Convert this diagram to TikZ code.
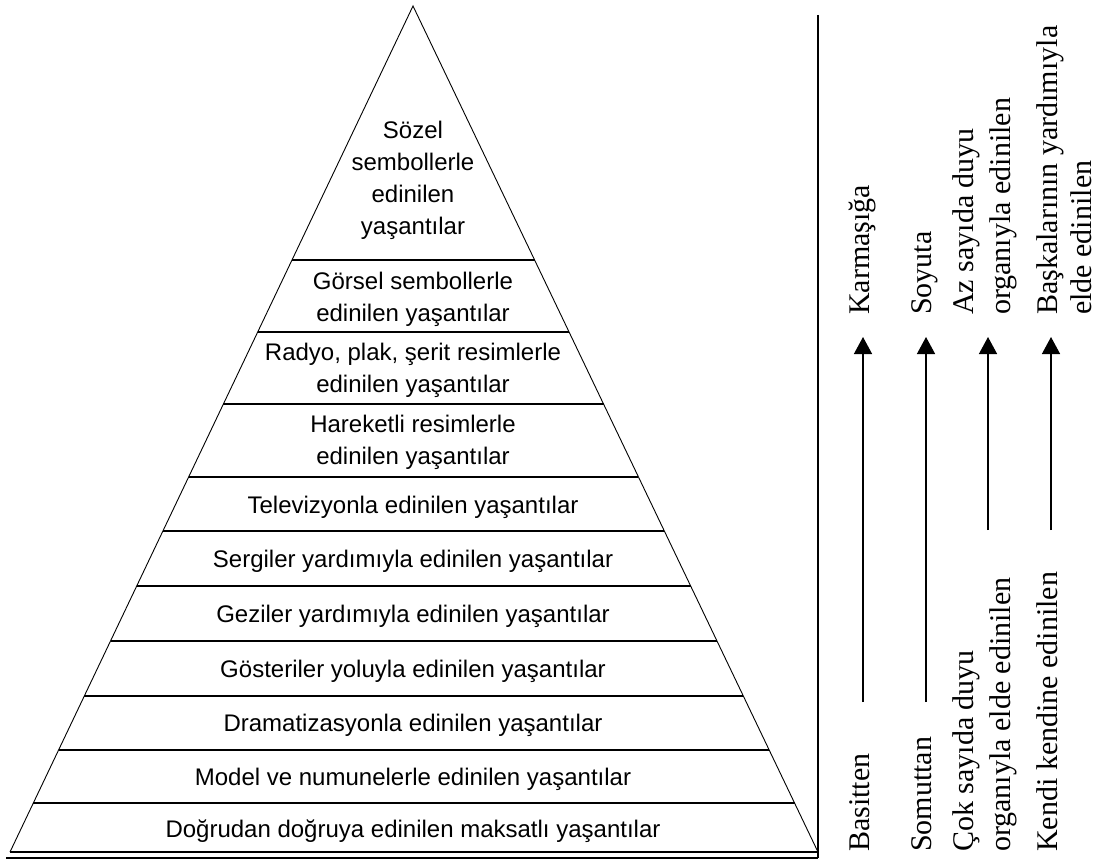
\documentclass[tikz,border=0pt]{standalone}
\usepackage{fontspec}
\setmainfont{Liberation Serif}
\setsansfont{Liberation Sans}
\usetikzlibrary{arrows.meta,calc}
\begin{document}
\begin{tikzpicture}[x=1pt,y=-1pt]
    \tikzstyle{layer} = [align=center, inner sep=0pt, font=\sffamily\fontsize{24}{32}\selectfont];
    \tikzstyle{side} = [rotate=90, anchor=north west, align=left, inner sep=0pt, font=\fontsize{30}{37}\selectfont];
    \tikzstyle{rise} = [draw, line width=1.4pt, -{Triangle[width=18pt,length=17pt]}];
    \useasboundingbox (0,0) rectangle (1099,861);
    % pyramid
    \coordinate (apex) at (413,6);
    \coordinate (bl) at (10,852);
    \coordinate (br) at (818,852);
    \draw[line width=0.9pt] (bl) -- (apex) -- (br);
    \draw[line width=1.3pt] (bl) -- (br);
    \foreach \y [evaluate=\y as \t using (\y-6)/846] in {260,332,404,477,531,586,641,696,750,803}
        \draw[line width=1.3pt] ($(apex)!\t!(bl)$) -- ($(apex)!\t!(br)$);
    \coordinate (rtop) at (818,15);
    \coordinate (rbot) at (818,858);
    \draw[line width=1.6pt] (rtop) -- (rbot);
    \draw[line width=1.3pt] (6,858) -- (rbot);
    \node[layer] (sozel) at (413,180) {Sözel\\sembollerle\\edinilen\\yaşantılar};
    \node[layer] (gorsel) at (413,299) {Görsel sembollerle\\edinilen yaşantılar};
    \node[layer] (radyo) at (413,370) {Radyo, plak, şerit resimlerle\\edinilen yaşantılar};
    \node[layer] (hareket) at (413,442) {Hareketli resimlerle\\edinilen yaşantılar};
    \node[layer] (tv) at (413,507) {Televizyonla edinilen yaşantılar};
    \node[layer] (sergi) at (413,561) {Sergiler yardımıyla edinilen yaşantılar};
    \node[layer] (gezi) at (413,616) {Geziler yardımıyla edinilen yaşantılar};
    \node[layer] (goster) at (413,671) {Gösteriler yoluyla edinilen yaşantılar};
    \node[layer] (drama) at (413,725) {Dramatizasyonla edinilen yaşantılar};
    \node[layer] (model) at (413,779) {Model ve numunelerle edinilen yaşantılar};
    \node[layer] (dogru) at (413,831) {Doğrudan doğruya edinilen maksatlı yaşantılar};
    % arrows
    \coordinate (a1s) at (863,702); \coordinate (a1e) at (863,337);
    \coordinate (a2s) at (926,702); \coordinate (a2e) at (926,337);
    \coordinate (a3s) at (988,530); \coordinate (a3e) at (988,337);
    \coordinate (a4s) at (1051,530); \coordinate (a4e) at (1051,337);
    \path[rise] (a1s) -- (a1e);
    \path[rise] (a2s) -- (a2e);
    \path[rise] (a3s) -- (a3e);
    \path[rise] (a4s) -- (a4e);
    \node[side] (karmasiga) at (849,315) {Karmaşığa};
    \node[side] (soyuta) at (911,315) {Soyuta};
    \node[side] (azduyu) at (952,315) {Az sayıda duyu\\organıyla edinilen};
    \node[side, font=\fontsize{30}{34}\selectfont] (baskasi) at (1036,315) {Başkalarının yardımıyla\\elde edinilen};
    \node[side] (basitten) at (849,852) {Basitten};
    \node[side] (somuttan) at (911,852) {Somuttan};
    \node[side] (cokduyu) at (952,852) {Çok sayıda duyu\\organıyla elde edinilen};
    \node[side] (kendi) at (1036,852) {Kendi kendine edinilen};
\end{tikzpicture}
\end{document}
